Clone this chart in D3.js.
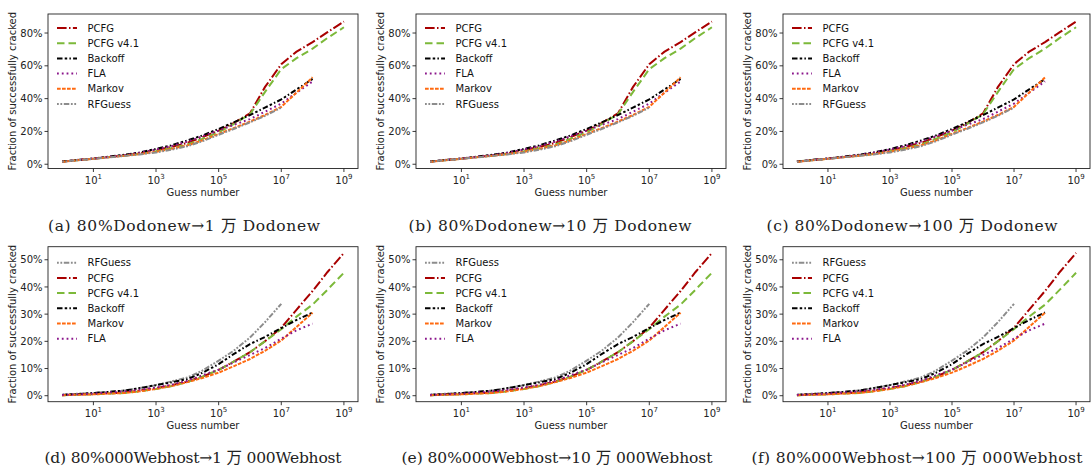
<!DOCTYPE html>
<html><head><meta charset="utf-8">
<script src="https://cdn.jsdelivr.net/npm/d3@7/dist/d3.min.js"></script>
<style>
body{margin:0;background:#fff;}
svg{display:block;}
text{font-family:"DejaVu Sans",sans-serif;}
.cap{font-family:"DejaVu Serif","Noto Sans CJK SC",serif;}
</style></head>
<body><svg id="c" width="1091" height="469"></svg>
<script>
// ---------------- data ----------------
const guesses = [1,3,10,30,100,300,1e3,3e3,1e4,3e4,1e5,3e5,1e6,3e6,1e7,3e7,1e8,3e8,1e9];
const xTickExps = [1,3,5,7,9];
const yTicksTop = [0,20,40,60,80];
const yTicksBottom = [0,10,20,30,40,50];

// Dodonew (top row)
const dodoPCFG    = [1.6,2.5,3.4,4.3,5.3,6.6,8.5,10.5,13,16.5,20.5,25,31,47,61,68.5,74.5,80.5,87];
const dodoPCFG41  = [1.6,2.5,3.4,4.3,5.2,6.3,8,9.8,12,15.5,19.5,24.5,30.5,44,58,64.5,70.5,77,83.5];
const dodoBackoff = [1.6,2.6,3.5,4.6,5.8,7.2,9.3,11.5,14.5,17.5,21.5,25.5,30,34.5,39.5,45.5,52,null,null];
const dodoFLA     = [1.6,2.6,3.5,4.5,5.6,7,9,11,13.8,17,20.5,24,27.5,32,37,43.5,50.5,null,null];
const dodoMarkov  = [1.5,2.4,3.3,4.2,5.2,6.2,7.6,9.3,11.5,14.5,18.5,22,26,30,35,43.5,53,null,null];
const dodoRFGuess = [1.5,2.4,3.3,4.2,5.1,6,7.2,8.8,11,14,18,21.5,25.5,29.5,34.5,null,null,null,null];

// 000Webhost (bottom row)
const webRFGuess = [0.4,0.7,1.0,1.4,1.9,2.8,3.9,5.2,6.7,9.2,12.9,16.5,21.4,27,33.8,null,null,null,null];
const webPCFG    = [0.2,0.4,0.6,0.9,1.2,1.9,2.8,3.8,5.2,7.0,9.5,12.5,16,20,25,31.5,38.5,45.5,52.5];
const webPCFG41  = [0.2,0.4,0.5,0.8,1.0,1.6,2.5,3.5,5.0,7.0,9.5,12.5,16,20,24.5,29,33.5,39,45.2];
const webBackoff = [0.3,0.6,1.0,1.4,1.9,2.8,3.9,4.9,6.1,8.4,11.6,15.3,19,21.6,24.9,27.8,30.6,null,null];
const webMarkov  = [0.2,0.4,0.5,0.8,1.0,1.6,2.5,3.5,5,6.5,8.5,10.8,13.5,16.5,20.3,25.2,30.5,null,null];
const webFLA     = [0.3,0.5,0.8,1.2,1.6,2.2,3.0,4.0,5.5,7.5,9.6,12.2,15,17.5,21,24,26.5,null,null];

const captions = [
  "(a) 80%Dodonew\u21921 \u4e07 Dodonew",
  "(b) 80%Dodonew\u219210 \u4e07 Dodonew",
  "(c) 80%Dodonew\u2192100 \u4e07 Dodonew",
  "(d) 80%000Webhost\u21921 \u4e07 000Webhost",
  "(e) 80%000Webhost\u219210 \u4e07 000Webhost",
  "(f) 80%000Webhost\u2192100 \u4e07 000Webhost"
];
const xLabel = "Guess number";
const yLabel = "Fraction of successfully cracked";

// ---------------- layout / styles ----------------
const capCenters = [184,550,912,193,557,917];
const capWidths  = [272,283,291,297,311,331];

const style = {
  "PCFG":      {color:"#a80000", dash:"9.6,2.4,1.5,2.4", w:2},
  "PCFG v4.1": {color:"#7cb93a", dash:"7.5,4", w:2},
  "Backoff":   {color:"#000000", dash:"5.5,2.2,2.5,2.2,1.5,2.2", w:2},
  "FLA":       {color:"#8b168b", dash:"1.8,3", w:2},
  "Markov":    {color:"#ff6a10", dash:"3.7,1.3", w:2},
  "RFGuess":   {color:"#8c8c8c", dash:"1.8,1.6,1.8,1.6,5.5,1.6", w:2}
};
const topSeries = [
  ["PCFG",dodoPCFG],["PCFG v4.1",dodoPCFG41],["Backoff",dodoBackoff],
  ["FLA",dodoFLA],["Markov",dodoMarkov],["RFGuess",dodoRFGuess]];
const bottomSeries = [
  ["RFGuess",webRFGuess],["PCFG",webPCFG],["PCFG v4.1",webPCFG41],
  ["Backoff",webBackoff],["Markov",webMarkov],["FLA",webFLA]];

const cols = [{l:48,r:358},{l:416,r:726},{l:783,r:1090}];
const rows = [
  {t:14,b:168.5,dom:[-2.6,91.6],ticks:yTicksTop,series:topSeries,capY:231,legTop:14},
  {t:246.7,b:401.7,dom:[-2.2,54.8],ticks:yTicksBottom,series:bottomSeries,capY:463,legTop:16}
];

const svg = d3.select("#c");

rows.forEach((row,ri)=>{
  cols.forEach((col,ci)=>{
    const g = svg.append("g");
    const x = d3.scaleLog().domain([Math.pow(10,-0.45),Math.pow(10,9.45)]).range([col.l,col.r]);
    const y = d3.scaleLinear().domain(row.dom).range([row.b,row.t]);
    const clipId = "clip"+ri+ci;
    g.append("clipPath").attr("id",clipId).append("rect")
      .attr("x",col.l).attr("y",row.t).attr("width",col.r-col.l).attr("height",row.b-row.t);

    // lines
    const line = d3.line().defined(d=>d[1]!=null).x(d=>x(d[0])).y(d=>y(d[1]));
    row.series.forEach(([name,vals])=>{
      const s = style[name];
      g.append("path").attr("clip-path","url(#"+clipId+")")
        .datum(guesses.map((gv,i)=>[gv,vals[i]]))
        .attr("d",line).attr("fill","none").attr("stroke",s.color)
        .attr("stroke-width",s.w).attr("stroke-dasharray",s.dash);
    });

    // frame
    g.append("rect").attr("x",col.l).attr("y",row.t).attr("width",col.r-col.l).attr("height",row.b-row.t)
      .attr("fill","none").attr("stroke","#222").attr("stroke-width",0.9);

    // y axis
    row.ticks.forEach(v=>{
      const yy = y(v);
      g.append("line").attr("x1",col.l-3.5).attr("x2",col.l).attr("y1",yy).attr("y2",yy)
        .attr("stroke","#222").attr("stroke-width",0.9);
      g.append("text").attr("x",col.l-5.5).attr("y",yy+3.6).attr("text-anchor","end")
        .attr("font-size",10).attr("fill","#222").text(v+"%");
    });
    // x axis
    xTickExps.forEach(e=>{
      const xx = x(Math.pow(10,e));
      g.append("line").attr("x1",xx).attr("x2",xx).attr("y1",row.b).attr("y2",row.b+3.5)
        .attr("stroke","#222").attr("stroke-width",0.9);
      const t = g.append("text").attr("x",xx).attr("y",row.b+15).attr("text-anchor","middle")
        .attr("font-size",10).attr("fill","#222");
      t.append("tspan").text("10");
      t.append("tspan").attr("dy",-4.5).attr("font-size",7).text(String(e));
    });
    g.append("text").attr("x",(col.l+col.r)/2).attr("y",row.b+27).attr("text-anchor","middle")
      .attr("font-size",10).attr("fill","#222").text(xLabel);
    g.append("text").attr("transform","translate("+(col.l-32.5)+","+((row.t+row.b)/2)+") rotate(-90)")
      .attr("text-anchor","middle").attr("font-size",10).attr("fill","#222").text(yLabel);

    // legend
    row.series.forEach(([name],i)=>{
      const s = style[name];
      const ly = row.t + row.legTop + i*15.2;
      g.append("line").attr("x1",col.l+9).attr("x2",col.l+29).attr("y1",ly).attr("y2",ly)
        .attr("stroke",s.color).attr("stroke-width",s.w).attr("stroke-dasharray",s.dash);
      g.append("text").attr("x",col.l+39.5).attr("y",ly+3.6).attr("font-size",10)
        .attr("fill","#111").text(name);
    });

    // caption
    const k = ri*3+ci;
    svg.append("text").attr("class","cap").attr("x",capCenters[k]).attr("y",row.capY)
      .attr("text-anchor","middle").attr("font-size",15.5).attr("fill","#222")
      .attr("textLength",capWidths[k]).attr("lengthAdjust","spacing")
      .text(captions[k]);
  });
});
</script></body></html>
